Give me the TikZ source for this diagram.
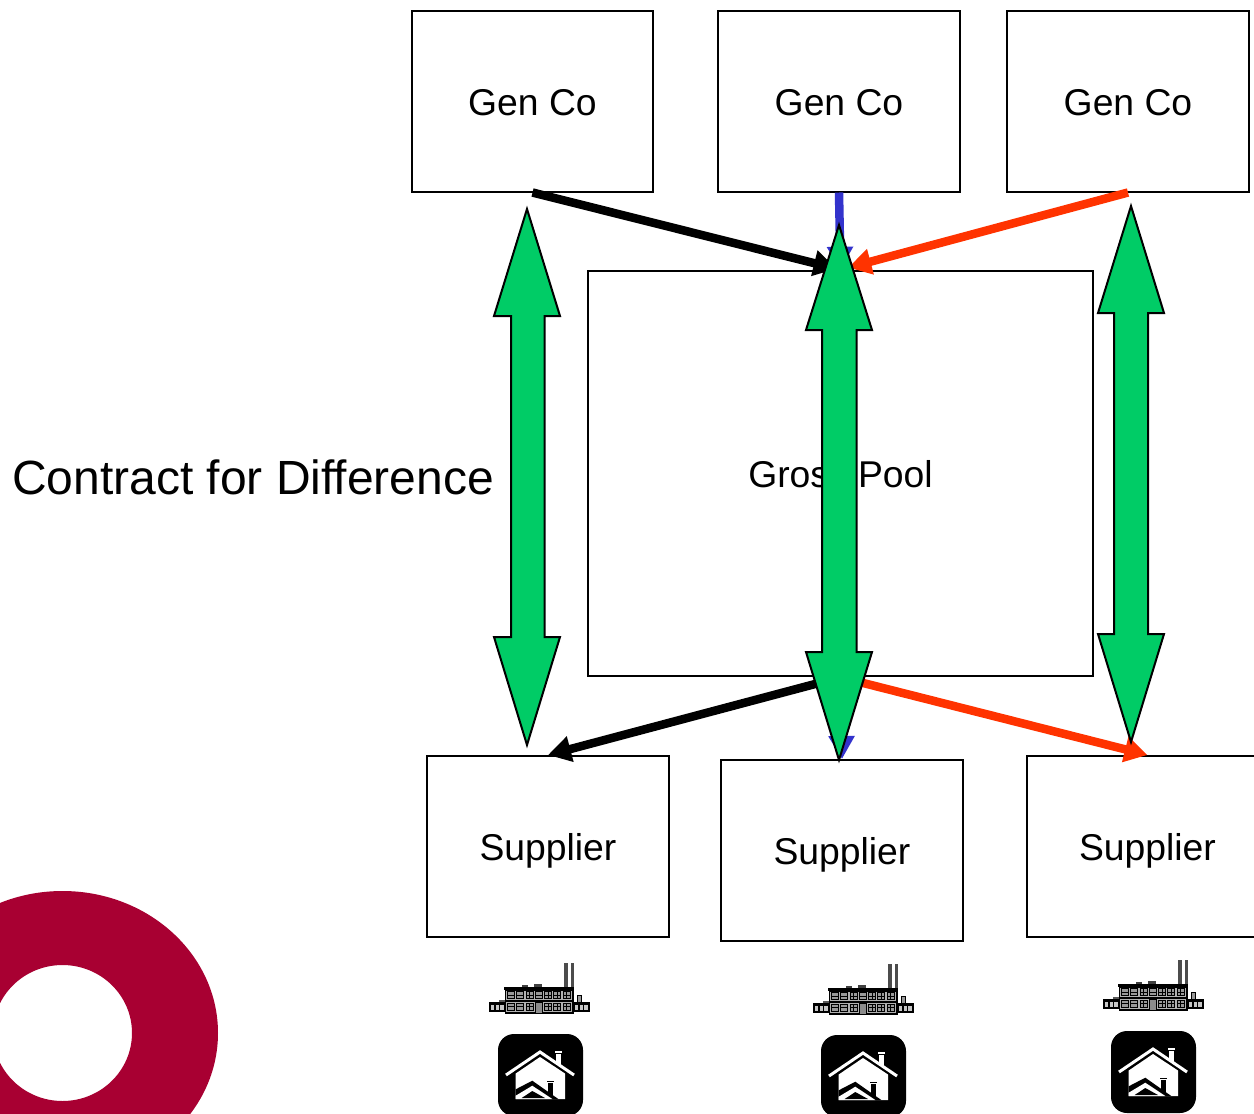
\documentclass[tikz,border=0pt]{standalone}
\usepackage{fontspec}
\setmainfont{Liberation Sans}
\usetikzlibrary{arrows.meta}
\definecolor{cfdgreen}{RGB}{0,204,102}
\definecolor{flowblue}{RGB}{51,51,204}
\definecolor{floworange}{RGB}{255,51,0}
\definecolor{ringred}{RGB}{168,0,50}
\newcommand{\lbl}[2]{\raisebox{-#1pt}[0pt][0pt]{#2}}
\tikzset{
  party/.style={draw=black,line width=2pt,fill=white,minimum width=241.5pt,minimum height=181pt,inner sep=0pt,font=\fontsize{37.3}{40}\selectfont},
  poolbox/.style={draw=black,line width=2pt,fill=white,minimum width=505.5pt,minimum height=405.5pt,inner sep=0pt,font=\fontsize{37.3}{40}\selectfont},
  flow/.style={line width=8.5pt,-{Triangle[length=23pt,width=25pt]}},
  cfd/.style={draw=black,line width=2pt,fill=cfdgreen,line join=miter},
  factory/.pic={
    % chimneys
    \fill[white!30!black] (75,0.5) rectangle (78.7,27);
    \fill[white!30!black] (81.7,0.5) rectangle (85.3,27);
    % roof boxes and sheds
    \fill[white!25!black] (32.7,22.7) rectangle (38.7,27);
    \fill[white!25!black] (45.3,22) rectangle (52.7,27);
    \fill[white!35!black] (10,37.7) rectangle (16,41);
    \fill[black] (87.7,32.7) rectangle (93.3,41);
    \fill[white!60!black] (88.7,34) rectangle (92.3,41);
    % wings
    \fill[black] (0,40.3) rectangle (16,50);
    \fill[black] (84,40.3) rectangle (101,50);
    \foreach \x in {2,6.7,11.3,86,90.7,95.3}{\fill[white!78!black] (\x,43) rectangle ++(3.3,5.3);}
    % main building
    \fill[black] (15.3,25.3) rectangle (85.3,27.7);
    \fill[black] (15.7,27.7) rectangle (84.7,52);
    \fill[white!70!black] (17,28.5) rectangle (83.4,37.9);
    \fill[white!70!black] (17,39.6) rectangle (83.4,50);
    \foreach \x in {18,27,36.7,46,55.3,64.3,73.7}{
      \fill[black] (\x,29.3) rectangle ++(8,7.6);
      \fill[white!60!black] (\x+1,30.2) rectangle ++(2.6,2.5);
      \fill[white!60!black] (\x+4.4,30.2) rectangle ++(2.6,2.5);
      \fill[white!60!black] (\x+1,33.6) rectangle ++(2.6,2.5);
      \fill[white!60!black] (\x+4.4,33.6) rectangle ++(2.6,2.5);
    }
    \foreach \x in {18,27,36.7,55.3,64.3,73.7}{
      \fill[black] (\x,41) rectangle ++(8,7.6);
      \fill[white!60!black] (\x+1,41.9) rectangle ++(2.6,2.5);
      \fill[white!60!black] (\x+4.4,41.9) rectangle ++(2.6,2.5);
      \fill[white!60!black] (\x+1,45.3) rectangle ++(2.6,2.5);
      \fill[white!60!black] (\x+4.4,45.3) rectangle ++(2.6,2.5);
    }
    \fill[black] (46,39.6) rectangle (53.5,51);
    \fill[white!55!black] (47,41) rectangle (52.5,51);
  },
  house/.pic={
    \fill[black,rounded corners=16pt] (0,0) rectangle (85,82);
    \fill[white] (17.7,39.5) -- (42,23) -- (67,39.5) -- (67,65) -- (17.7,65) -- cycle;
    \draw[white,line width=3pt] (8,41) -- (42,18) -- (76,41);
    \fill[white] (58,19.5) rectangle (63,30);
    \fill[white] (57,16.7) rectangle (64,18.7);
    \fill[black] (17.7,55.3) -- (34.3,46.7) -- (60.3,65) -- (17.7,65) -- cycle;
    \fill[white] (17.7,61.7) -- (34.3,51.7) -- (54.3,65) -- (17.7,65) -- cycle;
    \fill[black] (23.7,64) -- (34.3,57) -- (47,64) -- cycle;
    \fill[black] (50.3,48.7) rectangle (55.3,61);
    \fill[black] (49,46.5) rectangle (56,48);
  }
}
\begin{document}
\begin{tikzpicture}[x=1pt,y=-1pt]
\useasboundingbox (0,0) rectangle (1254,1114);
\fill[white] (0,0) rectangle (1254,1114);
% logo ring
\fill[ringred,even odd rule] (62.5,1033) ellipse [x radius=155.5,y radius=142] (62.5,1033) ellipse [x radius=69.5,y radius=68];
% boxes
\node[party] (g1) at (532.5,101) {\lbl{14}{Gen Co}};
\node[party] (g2) at (839,101) {\lbl{14}{Gen Co}};
\node[party] (g3) at (1128,101) {\lbl{14}{Gen Co}};
\node[poolbox] (pool) at (840.5,473.5) {\lbl{14}{Gross Pool}};
\node[party] (s1) at (548,846.5) {\lbl{14}{Supplier}};
\node[party] (s2) at (842,850.5) {\lbl{14}{Supplier}};
\node[party] (s3) at (1147.5,846.5) {\lbl{14}{Supplier}};
% flows
\draw[flow,flowblue] (g2.south) -- (pool.north);
\draw[flow,black,shorten >=4pt] (g1.south) -- (pool.north);
\draw[flow,floworange,shorten >=8pt] (g3.south) -- (pool.north);
\draw[flow,black] (pool.south) -- (s1.north);
\draw[flow,floworange] (pool.south) -- (s3.north);
\draw[flow,flowblue] (pool.south) -- (s2.north);
% contract arrows
\draw[cfd] (527,209) -- (560,316) -- (544.5,316) -- (544.5,637) -- (560,637) -- (527,745) -- (494,637) -- (511,637) -- (511,316) -- (494,316) -- cycle;
\draw[cfd] (839,225) -- (872,330) -- (856.5,330) -- (856.5,652) -- (872,652) -- (839,760) -- (806,652) -- (822,652) -- (822,330) -- (806,330) -- cycle;
\draw[cfd] (1131,206) -- (1164,313) -- (1148,313) -- (1148,634) -- (1164,634) -- (1131,742) -- (1098,634) -- (1114,634) -- (1114,313) -- (1098,313) -- cycle;
\node[font=\fontsize{48}{52}\selectfont,inner sep=0pt] (cfdlabel) at (253,477) {Contract for Difference};
% icons
\pic at (489,962) {factory};
\pic at (813,963) {factory};
\pic at (1103,959) {factory};
\pic at (498,1034) {house};
\pic at (821,1035) {house};
\pic at (1111,1031) {house};
\end{tikzpicture}
\end{document}
